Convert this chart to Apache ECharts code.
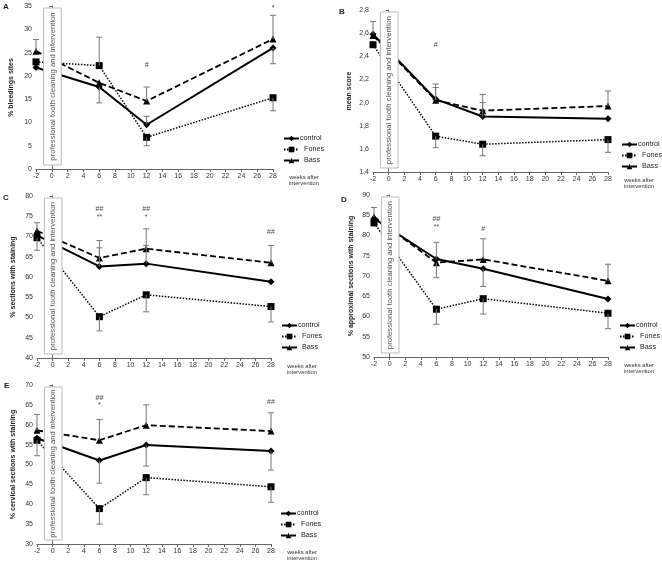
<!DOCTYPE html>
<html><head><meta charset="utf-8">
<script src="https://cdn.jsdelivr.net/npm/echarts@6/dist/echarts.min.js"></script>
<style>html,body{margin:0;padding:0;background:#fff}#c{width:662px;height:562px}</style>
</head><body><div id="c"></div>
<script>
const weeks = [-2, 6, 12, 28];
const seriesNames = ['control', 'Fones', 'Bass'];
const boxWeeks = [-1.05, 1.2];
const boxLabel = 'professional tooth cleaning and intervention';
const xAxisTitle = 'weeks after\nintervention';

// Panel A
const aControl = [21.8, 17.6, 9.5, 26.0];
const aFones = [23.0, 22.2, 6.8, 15.3];
const aBass = [25.3, 18.5, 14.6, 27.9];
const aErrors = [[-2,25.3,27.8],[6,22.2,28.3],[6,17.6,14.2],[12,14.6,17.6],[12,9.5,11.3],[12,6.8,5.0],[28,27.9,33.0],[28,26.0,22.6],[28,15.3,12.5]];
const aNotes = [[12, 22.4, '#'], [28, 34.6, '*']];
// Panel B
const bControl = [2.59, 2.03, 1.88, 1.86];
const bFones = [2.50, 1.71, 1.64, 1.68];
const bBass = [2.58, 2.02, 1.93, 1.97];
const bErrors = [[-2,2.59,2.70],[6,2.03,2.16],[6,2.02,2.13],[6,1.71,1.61],[12,1.93,2.07],[12,1.88,2.00],[12,1.64,1.54],[28,1.97,2.10],[28,1.68,1.57]];
const bNotes = [[6, 2.50, '#']];
// Panel C
const cControl = [70.3, 62.6, 63.3, 58.8];
const cFones = [69.7, 50.2, 55.6, 52.7];
const cBass = [71.4, 64.7, 67.0, 63.5];
const cErrors = [[-2,71.4,73.4],[-2,69.7,66.6],[6,64.7,69.0],[6,62.6,67.2],[6,50.2,46.7],[12,67.0,71.9],[12,63.3,67.8],[12,55.6,51.4],[28,63.5,67.8],[28,52.7,48.9]];
const cNotes = [[6, 76.8, '##'], [6, 74.7, '**'], [12, 76.8, '##'], [12, 74.7, '*'], [28, 71.0, '##']];
// Panel D
const dControl = [84.2, 74.2, 71.8, 64.3];
const dFones = [83.1, 61.8, 64.4, 60.8];
const dBass = [84.6, 73.3, 74.1, 68.8];
const dErrors = [[-2,84.6,86.9],[6,74.2,78.3],[6,73.3,69.6],[6,61.8,58.1],[12,74.1,79.2],[12,71.8,67.4],[12,64.4,60.6],[28,68.8,72.9],[28,60.8,57.0]];
const dNotes = [[6, 84.0, '##'], [6, 82.0, '**'], [12, 81.5, '#']];
// Panel E
const eControl = [56.6, 51.0, 54.9, 53.4];
const eFones = [56.1, 38.9, 46.7, 44.4];
const eBass = [58.6, 56.1, 59.9, 58.4];
const eErrors = [[-2,58.6,62.6],[-2,56.1,52.2],[6,56.1,61.3],[6,51.0,45.3],[6,38.9,35.0],[12,59.9,65.0],[12,54.9,49.6],[12,46.7,42.4],[28,58.4,63.0],[28,53.4,48.6],[28,44.4,40.5]];
const eNotes = [[6, 66.7, '##'], [6, 64.9, '*'], [28, 65.7, '##']];

const panels = [
  {letter:'A', title:'% bleedings sites', min:0, max:35, step:5, vals:[aControl,aFones,aBass], err:aErrors, notes:aNotes,
   grid:{left:36, top:6, width:237, height:163}, letterPos:[3,3], nameGap:21, legend:{left:278, top:130}},
  {letter:'B', title:'mean score', min:1.4, max:2.8, step:0.2, vals:[bControl,bFones,bBass], err:bErrors, notes:bNotes, comma:true,
   grid:{left:373, top:10, width:235, height:162}, letterPos:[339,8], nameGap:20, legend:{left:616, top:136}},
  {letter:'C', title:'% sections with staining', min:40, max:80, step:5, vals:[cControl,cFones,cBass], err:cErrors, notes:cNotes,
   grid:{left:37, top:196, width:234, height:162}, letterPos:[3,194], nameGap:20, legend:{left:276, top:317}},
  {letter:'D', title:'% approximal sections with staining', min:50, max:90, step:5, vals:[dControl,dFones,dBass], err:dErrors, notes:dNotes,
   grid:{left:374, top:195, width:234, height:162}, letterPos:[341,196], nameGap:19, legend:{left:614, top:317}},
  {letter:'E', title:'% cervical sections with staining', min:30, max:70, step:5, vals:[eControl,eFones,eBass], err:eErrors, notes:eNotes,
   grid:{left:37, top:385, width:234, height:162}, letterPos:[4,382], nameGap:20, legend:{left:275, top:505}}
];

const FONT = 'Liberation Sans, Arial, sans-serif';
const lineStyles = [
  {type:'solid', width:2, symbol:'diamond', size:7},
  {type:[1.5,1.5], width:1.5, symbol:'rect', size:7},
  {type:[6,3], width:1.8, symbol:'triangle', size:7}
];

const grids = [], xAxes = [], yAxes = [], series = [], legends = [], graphics = [];
panels.forEach((p, i) => {
  grids.push(Object.assign({containLabel:false}, p.grid));
  xAxes.push({
    type:'value', gridIndex:i, min:-2, max:28, interval:2,
    axisLine:{lineStyle:{color:'#666', width:1}}, axisTick:{length:3, lineStyle:{color:'#666'}},
    splitLine:{show:false}, axisLabel:{fontSize:7, color:'#333', fontFamily:FONT, margin:4},
    name:xAxisTitle, nameLocation:'end', nameGap:31,
    nameTextStyle:{fontSize:5.8, color:'#333', fontFamily:FONT, align:'center', verticalAlign:'top', padding:[5,0,0,0], lineHeight:6.5}
  });
  yAxes.push({
    type:'value', gridIndex:i, min:p.min, max:p.max, interval:p.step,
    axisLine:{show:true, lineStyle:{color:'#666', width:1}}, axisTick:{show:true, length:3, lineStyle:{color:'#666'}},
    splitLine:{show:false},
    axisLabel:{fontSize:7, color:'#333', fontFamily:FONT, margin:4,
      formatter: p.comma ? (v => v.toFixed(1).replace('.', ',')) : (v => String(v))},
    name:p.title, nameLocation:'middle', nameGap:p.nameGap, nameRotate:90,
    nameTextStyle:{fontSize:7, fontWeight:'bold', color:'#222', fontFamily:FONT}
  });
  p.vals.forEach((vals, k) => {
    const ls = lineStyles[k];
    series.push({
      type:'line', name:seriesNames[k], xAxisIndex:i, yAxisIndex:i, z:2,
      data: weeks.map((w, j) => [w, vals[j]]),
      symbol:ls.symbol, symbolSize:ls.size, showSymbol:true,
      itemStyle:{color:'#000'}, lineStyle:{color:'#000', width:ls.width, type:ls.type},
      emphasis:{disabled:true}, animation:false
    });
  });
  series.push({
    type:'custom', xAxisIndex:i, yAxisIndex:i, z:3, animation:false, silent:true,
    data:[boxWeeks], encode:{x:[0,1]},
    renderItem:(params, api) => {
      const cs = params.coordSys;
      const x0 = api.coord([api.value(0), p.min])[0];
      const x1 = api.coord([api.value(1), p.min])[0];
      const y0 = cs.y + 2, y1 = cs.y + cs.height - 4;
      return {type:'group', children:[
        {type:'rect', shape:{x:x0, y:y0, width:x1-x0, height:y1-y0}, style:{fill:'#fff', stroke:'#bbb', lineWidth:1}},
        {type:'text', x:(x0+x1)/2, y:(y0+y1)/2, rotation:Math.PI/2,
         style:{text:boxLabel, x:0, y:0, align:'center', verticalAlign:'middle', fill:'#555', font:'7.7px ' + FONT}}
      ]};
    }
  });
  series.push({
    type:'custom', xAxisIndex:i, yAxisIndex:i, z:4, animation:false, silent:true,
    data:p.err, encode:{x:0, y:[1,2]},
    renderItem:(params, api) => {
      const a = api.coord([api.value(0), api.value(1)]);
      const b = api.coord([api.value(0), api.value(2)]);
      const st = {stroke:'#777', lineWidth:1};
      return {type:'group', children:[
        {type:'line', shape:{x1:a[0], y1:a[1], x2:b[0], y2:b[1]}, style:st},
        {type:'line', shape:{x1:b[0]-3, y1:b[1], x2:b[0]+3, y2:b[1]}, style:st}
      ]};
    }
  });
  series.push({
    type:'custom', xAxisIndex:i, yAxisIndex:i, z:4, animation:false, silent:true,
    data:p.notes.map(n => [n[0], n[1]]), encode:{x:0, y:1},
    renderItem:(params, api) => {
      const c = api.coord([api.value(0), api.value(1)]);
      return {type:'text', x:c[0], y:c[1], style:{text:p.notes[params.dataIndex][2], align:'center', verticalAlign:'middle', fill:'#444', font:'7px ' + FONT}};
    }
  });
  legends.push({
    data:seriesNames, orient:'vertical', left:p.legend.left, top:p.legend.top,
    itemWidth:15, itemHeight:7, itemGap:4, selectedMode:false,
    formatter: n => (n === 'control' ? n : '  ' + n),
    textStyle:{fontSize:7.2, color:'#222', fontFamily:FONT, padding:[0,0,0,-4]}
  });
  graphics.push({type:'text', left:p.letterPos[0], top:p.letterPos[1],
    style:{text:p.letter, font:'bold 8px ' + FONT, fill:'#222'}});
});

const chart = echarts.init(document.getElementById('c'), null, {renderer:'canvas'});
chart.setOption({
  animation:false, backgroundColor:'#fff',
  grid:grids, xAxis:xAxes, yAxis:yAxes, series:series, legend:legends, graphic:graphics
});
</script></body></html>
